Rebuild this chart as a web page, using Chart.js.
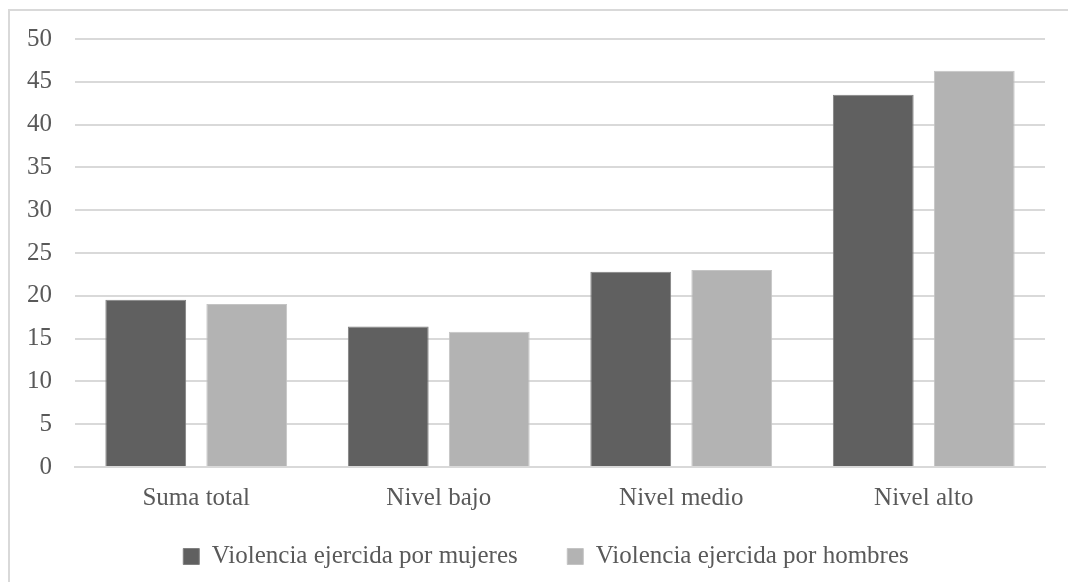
<!DOCTYPE html>
<html>
<head>
<meta charset="utf-8">
<script src="https://cdn.jsdelivr.net/npm/chart.js@4/dist/chart.umd.min.js"></script>
<style>
  html, body { margin: 0; padding: 0; background: #fff; overflow: hidden; }
  .edge { position: absolute; background: #d9d9d9; pointer-events: none; }
  #edgeTop { left: 8px; top: 9px; width: 1060px; height: 2px; }
  #edgeLeft { left: 8px; top: 9px; width: 2px; height: 573px; }
  #wrap { position: absolute; left: 0; top: 0; width: 1068px; height: 582px; }
</style>
</head>
<body>
<div class="edge" id="edgeTop"></div>
<div class="edge" id="edgeLeft"></div>
<div id="wrap"><canvas id="chart"></canvas></div>
<script>
// ---- Data ----
const categories = ['Suma total', 'Nivel bajo', 'Nivel medio', 'Nivel alto'];
const seriesNames = ['Violencia ejercida por mujeres', 'Violencia ejercida por hombres'];
const mujeres = [19.55, 16.4, 22.8, 43.5];
const hombres = [19.05, 15.8, 23.0, 46.3];
const yTicks = [0, 5, 10, 15, 20, 25, 30, 35, 40, 45, 50];

const FONT = "'Liberation Serif', 'DejaVu Serif', serif";
const TEXT = '#595959';
const GRID = '#d9d9d9';

const chart = new Chart(document.getElementById('chart'), {
  type: 'bar',
  data: {
    labels: categories,
    datasets: [
      { label: seriesNames[0], data: mujeres, backgroundColor: '#606060', borderColor: '#808080', borderWidth: 1 },
      { label: seriesNames[1], data: hombres, backgroundColor: '#b3b3b3', borderColor: '#c4c4c4', borderWidth: 1 }
    ]
  },
  options: {
    responsive: true,
    maintainAspectRatio: false,
    animation: false,
    datasets: { bar: { categoryPercentage: 0.833, barPercentage: 0.80 } },
    layout: { padding: { top: 39, right: 0, left: 24, bottom: 3 } },
    plugins: {
      title: { display: false },
      tooltip: { enabled: false },
      legend: {
        position: 'bottom',
        labels: {
          color: TEXT,
          font: { family: FONT, size: 25 },
          boxWidth: 16,
          boxHeight: 16,
          padding: 12,
          // extra room after the first entry, like the wide gap in the reference
          generateLabels: (c) => Chart.defaults.plugins.legend.labels.generateLabels(c)
            .map((item, i) => i === 0 ? { ...item, text: item.text + '      ' } : item)
        }
      }
    },
    scales: {
      x: {
        grid: { display: false },
        border: { display: true, color: GRID, width: 2 },
        ticks: { color: TEXT, font: { family: FONT, size: 25 }, padding: 8 },
        afterFit: (s) => { s.height = 65; }
      },
      y: {
        min: 0,
        max: 50,
        afterBuildTicks: (s) => { s.ticks = yTicks.map(v => ({ value: v })); },
        grid: { color: GRID, lineWidth: 2, drawTicks: false },
        border: { display: false },
        ticks: { color: TEXT, font: { family: FONT, size: 25 }, padding: 23 },
        afterFit: (s) => { s.width = 51; }
      },
      // empty right-hand margin so the plot ends where the reference does
      yRight: {
        position: 'right',
        grid: { display: false },
        border: { display: false },
        ticks: { display: false },
        afterFit: (s) => { s.width = 23; }
      }
    }
  }
});
</script>
</body>
</html>
